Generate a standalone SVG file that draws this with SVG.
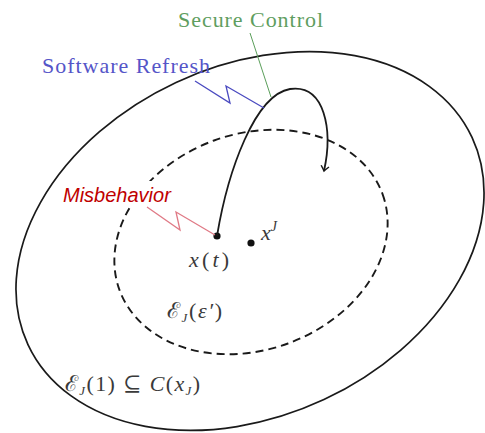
<svg xmlns="http://www.w3.org/2000/svg" width="485" height="433" viewBox="0 0 485 433">
<defs>
<style>
.region{fill:none;stroke:#1a1a1a;stroke-width:1.7}
.dashed{stroke-dasharray:8,5;stroke-width:1.9}
.math{font-family:"Liberation Serif","DejaVu Serif",serif;font-style:italic;fill:#3a3a3a;font-size:22px}
.rm{font-style:normal}
.lbl{font-family:"Liberation Serif",serif;font-size:22px}
</style>
<marker id="arr" viewBox="-6 -5 8 10" markerWidth="8" markerHeight="10" refX="0" refY="0" orient="auto" markerUnits="userSpaceOnUse">
<path d="M-5,-4 Q-1.5,-1 0,0 Q-1.5,1 -5,4" fill="none" stroke="#1a1a1a" stroke-width="1.5"/>
</marker>
</defs>
<rect width="485" height="433" fill="#fff"/>
<g id="outer-set">
<ellipse class="region" cx="250" cy="241" rx="245" ry="175" transform="rotate(-25 250 241)"/>
<text class="math" x="65" y="391" textLength="135" lengthAdjust="spacing"><tspan class="rm">ℰ</tspan><tspan font-size="13" dy="4">J</tspan><tspan class="rm" dy="-4">(1) ⊆ </tspan>C<tspan class="rm">(</tspan>x<tspan font-size="13" dy="4">J</tspan><tspan class="rm" dy="-4">)</tspan></text>
</g>
<g id="inner-set">
<ellipse class="region dashed" cx="251" cy="242" rx="140" ry="108" transform="rotate(-20 251 242)"/>
<text class="math" x="167" y="318" textLength="55" lengthAdjust="spacing"><tspan class="rm">ℰ</tspan><tspan font-size="13" dy="4">J</tspan><tspan class="rm" dy="-4">(</tspan>ε′<tspan class="rm">)</tspan></text>
</g>
<g id="state-xt">
<circle cx="217" cy="236" r="3.6" fill="#111"/>
<text class="math" x="189" y="267" textLength="40" lengthAdjust="spacing">x<tspan class="rm">(</tspan>t<tspan class="rm">)</tspan></text>
</g>
<g id="state-xJ">
<circle cx="251" cy="243" r="3.6" fill="#111"/>
<text class="math" x="261" y="240">x<tspan font-size="14" dy="-9">J</tspan></text>
</g>
<g id="connectors">
<path d="M217,236 C228,170 255,95 290,89 C325,84 333,130 324,171" fill="none" stroke="#1a1a1a" stroke-width="1.8" marker-end="url(#arr)"/>
<line x1="250" y1="33" x2="271" y2="97" stroke="#5a9e5a" stroke-width="1"/>
<polyline points="195,81 230,103 226,86 264,108" fill="none" stroke="#4a4ac0" stroke-width="1.3"/>
<polyline points="147,207 180,230 176,212 215,235" fill="none" stroke="#e07a86" stroke-width="1.3"/>
</g>
<g id="labels">
<text class="lbl" x="178" y="27" fill="#5f9e5f" textLength="145" lengthAdjust="spacing">Secure Control</text>
<text class="lbl" x="42" y="73" fill="#5555c8" textLength="168" lengthAdjust="spacing">Software Refresh</text>
<rect x="60" y="181" width="117" height="24" fill="#fff"/>
<text x="63" y="202" font-family="Liberation Sans,Arial,sans-serif" font-style="italic" font-size="20" fill="#c00000">Misbehavior</text>
</g>
</svg>
